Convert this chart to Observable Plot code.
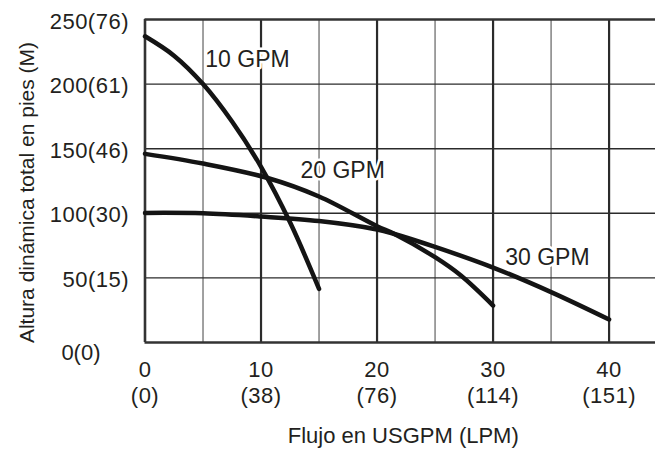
<!DOCTYPE html>
<html><head><meta charset="utf-8">
<script src="https://cdn.jsdelivr.net/npm/d3@7"></script>
<script src="https://cdn.jsdelivr.net/npm/@observablehq/plot@0.6"></script>
<style>
body{margin:0;background:#fff}
#chart svg{display:block}
g[aria-label="x-axis tick label"] text, g[aria-label="y-axis tick label"] text, g[aria-label="y-zero label"] text {letter-spacing:0.5px}
g[aria-label="x-title"] text {letter-spacing:1px}
</style>
</head><body><div id="chart"></div>
<script>
// Axis ticks and labels
const xTicks = [0, 10, 20, 30, 40];
const xTickLabels = ["0\n(0)", "10\n(38)", "20\n(76)", "30\n(114)", "40\n(151)"];
const yTicks = [50, 100, 150, 200, 250];
const yTickLabels = ["50(15)", "100(30)", "150(46)", "200(61)", "250(76)"];
const yZero = [0];
const yZeroLabel = ["0(0)"];
const majorX = [10, 20, 30, 40];
const minorX = [5, 15, 25, 35];
const gridY = [50, 100, 150, 200];
const xTitle = "Flujo en USGPM (LPM)";
const yTitle = "Altura dinámica total en pies (M)";

// Pump curves: flow (USGPM) vs total dynamic head (ft)
const gpm10Flow = [0, 2.5, 5, 7.5, 10, 12.5, 15];
const gpm10Head = [237, 222, 200, 171, 136, 93, 41.5];
const gpm20Flow = [0, 5, 10.5, 15, 20, 21.5, 25, 27.2, 30];
const gpm20Head = [146, 138.5, 127.5, 113, 90, 84, 66, 52, 28.6];
const gpm30Flow = [0, 5, 10, 15, 20, 21.5, 25, 30, 35, 40];
const gpm30Head = [100.3, 100, 97.5, 94, 87.5, 84, 74, 58, 39, 17.8];

// Curve labels
const curveNames = ["10 GPM", "20 GPM", "30 GPM"];
const labelFlow = [5.2, 13.4, 31.05];
const labelHead = [219, 133, 65.8];

const rows = [
  ...gpm10Flow.map((f, i) => ({series: curveNames[0], flow: f, head: gpm10Head[i]})),
  ...gpm20Flow.map((f, i) => ({series: curveNames[1], flow: f, head: gpm20Head[i]})),
  ...gpm30Flow.map((f, i) => ({series: curveNames[2], flow: f, head: gpm30Head[i]}))
];
const labels = curveNames.map((n, i) => ({name: n, flow: labelFlow[i], head: labelHead[i]}));

const ink = "#231f20";
const chart = Plot.plot({
  width: 655,
  height: 449,
  marginLeft: 144.5,
  marginRight: 0,
  marginTop: 19,
  marginBottom: 107,
  x: {domain: [0, 44], axis: null},
  y: {domain: [0, 250], axis: null},
  style: {fontFamily: "'Liberation Sans', Arial, Helvetica, sans-serif", color: ink, background: "#fff"},
  marks: [
    Plot.ruleX(minorX, {stroke: "#6e6e6e", strokeWidth: 1.3}),
    Plot.ruleX(majorX, {stroke: "#2b2b2b", strokeWidth: 2.2}),
    Plot.ruleY(gridY, {stroke: "#2b2b2b", strokeWidth: 1.4}),
    Plot.ruleY([0, 250], {stroke: "#333", strokeWidth: 2.6}),
    Plot.ruleX([0], {stroke: "#333", strokeWidth: 2.6}),
    Plot.line(rows, {x: "flow", y: "head", z: "series", stroke: "#141414", strokeWidth: 4.5, curve: "catmull-rom"}),
    Plot.text(labels, {x: "flow", y: "head", text: "name", textAnchor: "start", lineAnchor: "middle",
      fontSize: 23, fill: ink, stroke: "white", strokeWidth: 5}),
    Plot.axisX(xTicks, {tickFormat: d => xTickLabels[xTicks.indexOf(d)], tickSize: 0, tickPadding: 15,
      fontSize: 22, lineHeight: 1.22, label: null, fill: ink}),
    Plot.axisY(yTicks, {tickFormat: d => yTickLabels[yTicks.indexOf(d)], tickSize: 0, tickPadding: 16,
      fontSize: 22, dy: 2, label: null, fill: ink}),
    Plot.text(yZero, {y: d => d, text: d => yZeroLabel[yZero.indexOf(d)], frameAnchor: "left", textAnchor: "end",
      dx: -44.5, dy: 10, fontSize: 22, fill: ink, ariaLabel: "y-zero label"}),
    Plot.text([xTitle], {text: d => d, frameAnchor: "bottom", textAnchor: "middle", dy: 93, dx: 3, lineAnchor: "middle",
      fontSize: 22, fill: ink, ariaLabel: "x-title"}),
    Plot.text([yTitle], {text: d => d, frameAnchor: "left", textAnchor: "middle", rotate: -90, dx: -117.5, dy: 11.5,
      lineAnchor: "middle", fontSize: 21, fill: ink, ariaLabel: "y-title"})
  ]
});
document.getElementById("chart").appendChild(chart);
</script>
</body></html>
